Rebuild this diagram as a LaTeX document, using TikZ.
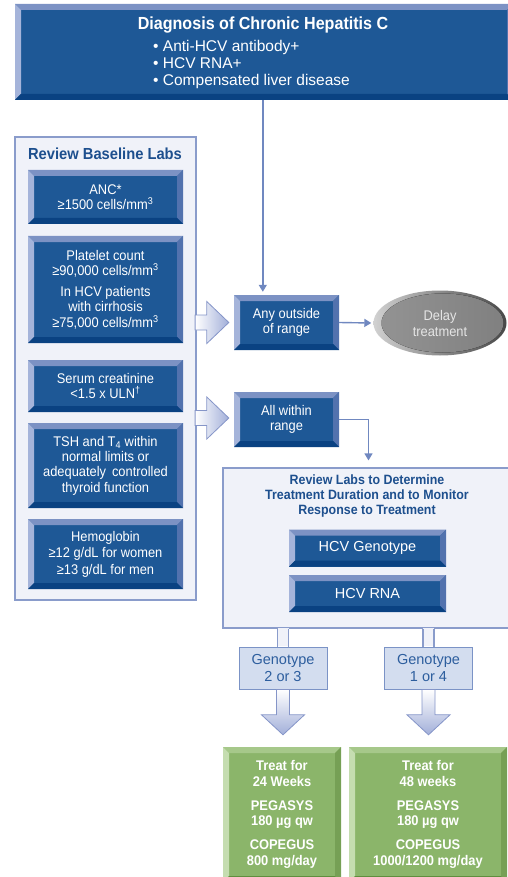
\documentclass[tikz,border=0pt]{standalone}
\usepackage{fontspec}
\setmainfont{Liberation Sans}
\newfontfamily\condfont[FakeStretch=0.92]{Liberation Sans}
\usetikzlibrary{calc,shapes.geometric,arrows.meta,positioning}

\definecolor{boxface}{HTML}{1E5896}
\definecolor{bevtop}{HTML}{7C92C4}
\definecolor{bevleft}{HTML}{A5B4DA}
\definecolor{bevright}{HTML}{5272AE}
\definecolor{bevbot}{HTML}{0A4282}
\definecolor{panelfill}{HTML}{F0F2F9}
\definecolor{paneledge}{HTML}{8A9CCB}
\definecolor{paneltext}{HTML}{1D4F8E}
\definecolor{lineblue}{HTML}{7088C0}
\definecolor{genofill}{HTML}{D3DDEF}
\definecolor{genoedge}{HTML}{7B93C6}
\definecolor{genotext}{HTML}{2D5E9E}
\definecolor{fatfill}{HTML}{A2AFD9}
\definecolor{fatedge}{HTML}{8595C8}
\definecolor{grnface}{HTML}{8BB56A}
\definecolor{grntop}{HTML}{A6C88A}
\definecolor{grnleft}{HTML}{C5DDB0}
\definecolor{grnright}{HTML}{76A055}
\definecolor{grnbot}{HTML}{5F8E3E}

\newcommand\bevw{6pt}
\newcommand\bevelfaces[4]{%
  \coordinate (bnw) at (path picture bounding box.north west);
  \coordinate (bne) at (path picture bounding box.north east);
  \coordinate (bsw) at (path picture bounding box.south west);
  \coordinate (bse) at (path picture bounding box.south east);
  \coordinate (inw) at ([shift={(\bevw,-\bevw)}]bnw);
  \coordinate (ine) at ([shift={(-\bevw,-\bevw)}]bne);
  \coordinate (isw) at ([shift={(\bevw,\bevw)}]bsw);
  \coordinate (ise) at ([shift={(-\bevw,\bevw)}]bse);
  \fill[#1] (bnw) -- (bne) -- (ine) -- (inw) -- cycle;
  \fill[#2] (bnw) -- (inw) -- (isw) -- (bsw) -- cycle;
  \fill[#3] (bne) -- (ine) -- (ise) -- (bse) -- cycle;
  \fill[#4] (bsw) -- (isw) -- (ise) -- (bse) -- cycle;
}
\newcommand\boxfont{\condfont\fontsize{14}{15.3}\selectfont}
\newcommand\grnfont{\condfont\bfseries\fontsize{14}{15.5}\selectfont}

\tikzset{
  bluebox/.style={rectangle, fill=boxface, text=white, inner sep=0pt, align=center,
    font=\boxfont, path picture={\bevelfaces{bevtop}{bevleft}{bevright}{bevbot}}},
  grnbox/.style={rectangle, fill=grnface, text=white, inner sep=0pt, align=center,
    font=\grnfont, path picture={\bevelfaces{grntop}{grnleft}{grnright}{grnbot}}},
  panel/.style={rectangle, fill=panelfill, draw=paneledge, line width=1.2pt, inner sep=0pt},
  paneltitle/.style={text=paneltext, align=center, inner sep=0pt},
  genobox/.style={rectangle, fill=genofill, draw=genoedge, line width=1pt, text=genotext,
    align=center, inner sep=0pt, minimum width=88pt, minimum height=42pt,
    font=\fontsize{14.5}{17}\selectfont},
  flow/.style={draw=lineblue, line width=1.4pt, -{Triangle[length=7pt,width=8pt]}},
  fatH/.style={draw=fatedge, line width=0.8pt, left color=white, right color=fatfill,
    to path={($(\tikztostart)+(0,-7.5)$) -- ($(\tikztotarget)+(-22,-7.5)$)
      -- ($(\tikztotarget)+(-22,-21)$) -- (\tikztotarget) -- ($(\tikztotarget)+(-22,21)$)
      -- ($(\tikztotarget)+(-22,7.5)$) -- ($(\tikztostart)+(0,7.5)$) -- cycle}},
  fatV/.style={draw=fatedge, line width=0.8pt, top color=white, bottom color=fatfill,
    to path={($(\tikztostart)+(-6.5,0)$) -- ($(\tikztotarget)+(-6.5,-20)$)
      -- ($(\tikztotarget)+(-21.5,-20)$) -- (\tikztotarget) -- ($(\tikztotarget)+(21.5,-20)$)
      -- ($(\tikztotarget)+(6.5,-20)$) -- ($(\tikztostart)+(6.5,0)$) -- cycle}},
}

\begin{document}
\begin{tikzpicture}[x=1pt,y=-1pt]
  \useasboundingbox (0,0) rectangle (508,877);
  \clip (0,0) rectangle (508,877);

  %--- Diagnosis ---
  \node[bluebox, minimum width=498pt, minimum height=96pt] (diag) at (264,52) {};
  \node[text=white, font=\condfont\bfseries\fontsize{17.5}{20}\selectfont] (diagttl) at (263,25)
    {Diagnosis of Chronic Hepatitis C};
  \node[text=white, anchor=west, align=left, inner sep=0pt, font=\fontsize{15.5}{17}\selectfont]
    (diagbul) at (153,64) {• Anti-HCV antibody+\\• HCV RNA+\\• Compensated liver disease};

  %--- Baseline labs ---
  \node[panel, minimum width=181pt, minimum height=463pt] (labs) at (105.5,368.5) {};
  \node[paneltitle, font=\condfont\bfseries\fontsize{16}{18}\selectfont] (labsttl) at (105,154)
    {Review Baseline Labs};
  \node[bluebox, minimum width=155pt, minimum height=54pt] (anc) at (105.5,197)
    {ANC*\\≥1500 cells/mm\textsuperscript{3}};
  \node[bluebox, minimum width=155pt, minimum height=107pt] (plt) at (105.5,289.5)
    {Platelet count\\≥90,000 cells/mm\textsuperscript{3}\\[6pt]In HCV patients\\with cirrhosis\\≥75,000 cells/mm\textsuperscript{3}};
  \node[bluebox, minimum width=155pt, minimum height=52pt] (scr) at (105.5,386)
    {Serum creatinine\\<1.5 x ULN\textsuperscript{†}};
  \node[bluebox, minimum width=155pt, minimum height=85pt] (tsh) at (105.5,465.5)
    {TSH and T\textsubscript{4} within\\normal limits or\\adequately\, controlled\\thyroid function};
  \node[bluebox, minimum width=155pt, minimum height=70pt, font=\condfont\fontsize{14}{16.5}\selectfont]
    (hgb) at (105.5,554) {Hemoglobin\\≥12 g/dL for women\\≥13 g/dL for men};

  %--- Decision boxes ---
  \node[bluebox, minimum width=105pt, minimum height=55pt] (outside) at (286.5,322.5)
    {Any outside\\of range};
  \node[bluebox, minimum width=105pt, minimum height=55pt] (within) at (286.5,419.5)
    {All within\\range};
  \node[ellipse, minimum width=133pt, minimum height=65pt, inner sep=0pt,
    left color=black!18, right color=black!72, text=black!10, align=center,
    font=\condfont\fontsize{14}{16}\selectfont,
    path picture={\fill[left color=black!42, right color=black!50]
      ([xshift=2.5pt]path picture bounding box.center) ellipse [x radius=61pt, y radius=29.5pt];}]
    (delay) at (440,323) {Delay\\treatment};

  %--- Treatment labs ---
  \node[panel, minimum width=291pt, minimum height=160pt] (resp) at (368.5,548) {};
  \node[paneltitle, font=\condfont\bfseries\fontsize{13.5}{15}\selectfont] (respttl) at (367,496)
    {Review Labs to Determine\\Treatment Duration and to Monitor\\Response to Treatment};
  \node[bluebox, minimum width=157pt, minimum height=37pt, font=\fontsize{14.5}{17}\selectfont]
    (geno) at (367.5,548) {HCV Genotype};
  \node[bluebox, minimum width=157pt, minimum height=37pt, font=\fontsize{14.5}{17}\selectfont]
    (rna) at (367.5,593.5) {HCV RNA};
  \node[genobox] (g23) at (283,668) {Genotype\\2 or 3};
  \node[genobox] (g14) at (428.5,668) {Genotype\\1 or 4};

  %--- Regimens ---
  \node[grnbox, minimum width=118pt, minimum height=135pt] (tr24) at (282,814.5)
    {Treat for\\24 Weeks\\[8.5pt]PEGASYS\\180 µg qw\\[8.5pt]COPEGUS\\800 mg/day};
  \node[grnbox, minimum width=158pt, minimum height=135pt] (tr48) at (428,814.5)
    {Treat for\\48 weeks\\[8.5pt]PEGASYS\\180 µg qw\\[8.5pt]COPEGUS\\1000/1200 mg/day};

  %--- Connectors ---
  \draw[flow] ([xshift=29pt]outside.north west |- diag.south) -- ([xshift=29pt,yshift=3pt]outside.north west);
  \draw[flow] (outside.east) -- ([xshift=-2pt]delay.west);
  \draw[flow] (within.east) -| ([yshift=7pt]resp.north);
  \path[fatH] ($(labs.east |- outside.west)+(-1.5,0)$) to ([xshift=-5pt]outside.west);
  \path[fatH] ($(labs.east |- within.west)+(-1.5,-1.5)$) to ([xshift=-5pt,yshift=1.5pt]within.west);

  %--- Strips into genotype boxes ---
  \foreach \g in {g23,g14} {
    \fill[panelfill] ($(resp.south -| \g.north)+(-5.5,-1)$) rectangle ($(\g.north)+(5.5,-0.6)$);
    \draw[paneledge, line width=1.2pt] ($(resp.south -| \g.north)+(-5.5,0)$) -- ($(\g.north)+(-5.5,0)$);
    \draw[paneledge, line width=1.2pt] ($(resp.south -| \g.north)+(5.5,0)$) -- ($(\g.north)+(5.5,0)$);
  }
  \path[fatV] (g23.south) to ($(g23.south |- tr24.north)+(0,-12)$);
  \path[fatV] (g14.south) to ($(g14.south |- tr48.north)+(0,-12)$);

\end{tikzpicture}
\end{document}
